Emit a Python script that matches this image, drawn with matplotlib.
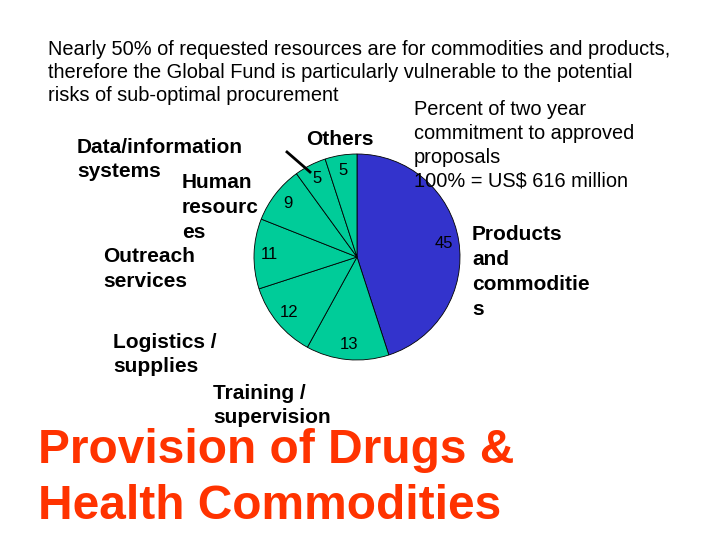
import matplotlib.pyplot as plt
from matplotlib.lines import Line2D

plt.rcParams["font.family"] = ["Liberation Sans", "DejaVu Sans"]

# slice values, clockwise from 12 o'clock
values = [45, 13, 12, 11, 9, 5, 5]
colors = ["#3333CC"] + ["#00CC99"] * 6

heading = [
    "Nearly 50% of requested resources are for commodities and products,",
    "therefore the Global Fund is particularly vulnerable to the potential",
    "risks of sub-optimal procurement",
]
note = [
    "Percent of two year",
    "commitment to approved",
    "proposals",
    "100% = US$ 616 million",
]
big_title = ["Provision of Drugs &", "Health Commodities"]

W, H = 720, 540
fig = plt.figure(figsize=(7.2, 5.4), dpi=100)
fig.patch.set_facecolor("white")


def put(lines, x, y0, step, **kw):
    # place lines at pixel baselines
    for i, s in enumerate(lines):
        fig.text(x / W, 1 - (y0 + i * step) / H, s, va="baseline", ha="left", **kw)


# pie, centre (357, 257), radius 103 px
cx, cy, r = 357, 257, 103
ax = fig.add_axes([(cx - r) / W, (H - cy - r) / H, 2 * r / W, 2 * r / H])
ax.pie(
    values,
    colors=colors,
    startangle=90,
    counterclock=False,
    autopct=lambda p: f"{p:.0f}",
    pctdistance=0.85,
    wedgeprops=dict(edgecolor="black", linewidth=0.6),
    textprops=dict(fontsize=12, color="black"),
)
ax.set_xlim(-1, 1)
ax.set_ylim(-1, 1)
ax.set_aspect("equal")
ax.axis("off")

put(heading, 48, 55, 23, fontsize=14.4)
put(note, 414, 115, 24, fontsize=14.4)

bold = dict(fontsize=15, fontweight="bold")
put(["Data/information", "systems"], 77, 153, 24, **bold)
put(["Human", "resourc", "es"], 182, 188, 25, **bold)
put(["Outreach", "services"], 103, 262, 25, **bold)
put(["Logistics /", "supplies"], 113, 348, 24, **bold)
put(["Training /", "supervision"], 213, 399, 24, **bold)
put(["Others"], 306, 145, 0, **bold)
put(["Products", "and", "commoditie", "s"], 472, 240, 25, **bold)

fig.add_artist(Line2D([287 / W, 310 / W], [1 - 152 / H, 1 - 172 / H],
                      color="black", linewidth=2, transform=fig.transFigure))

put(big_title, 38, 463, 56, fontsize=34.5, fontweight="bold", color="#FF3300")

fig.savefig("out.png", dpi=100)
